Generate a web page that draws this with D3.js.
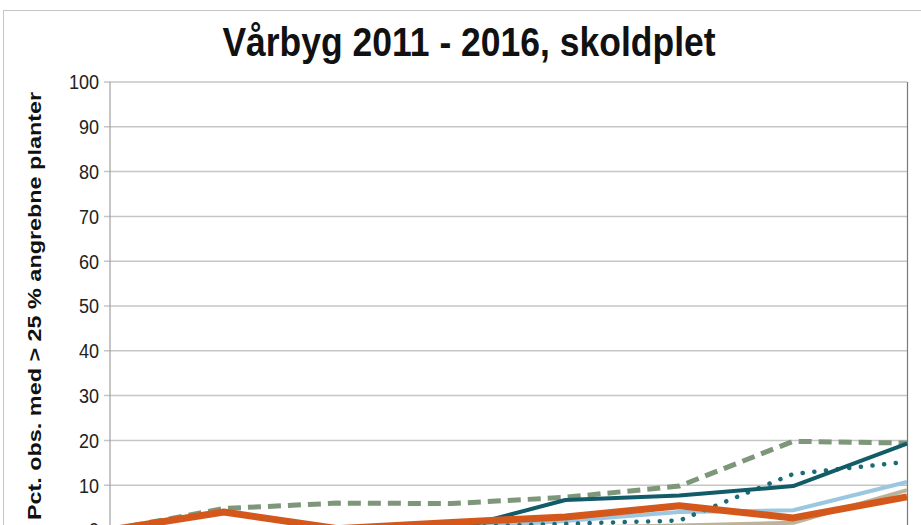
<!DOCTYPE html>
<html>
<head>
<meta charset="utf-8">
<script src="https://cdn.jsdelivr.net/npm/d3@7"></script>
<style>
  body { margin: 0; background: #fff; }
  svg { display: block; font-family: "Liberation Sans", Arial, sans-serif; }
</style>
</head>
<body>
<svg id="canvas" width="921" height="525"></svg>
<script>
// observation rounds along x (their labels sit below the cropped picture)
const categories = ["Obs. 1", "Obs. 2", "Obs. 3", "Obs. 4", "Obs. 5", "Obs. 6", "Obs. 7", "Obs. 8"];
const yTicks = [0, 10, 20, 30, 40, 50, 60, 70, 80, 90, 100];

const years = ["2011", "2012", "2013", "2014", "2015", "2016"];
const values2011 = [0, 0, 0, 0, 0.5, 1, 1.6, 8.9];        // tan
const values2012 = [0, 0, 0, 0.5, 2, 4, 4.4, 10.7];       // light blue
const values2013 = [0, 0, 0, 0.6, 1.4, 2.1, 12.5, 15.2];  // dotted teal
const values2014 = [0, 4.8, 6.0, 5.9, 7.3, 9.8, 19.8, 19.4]; // dashed green
const values2015 = [0, 0, 0, 0, 6.7, 7.7, 9.8, 19.3];     // teal
const values2016 = [0, 4.0, 0.3, 1.7, 2.9, 5.4, 2.7, 7.4]; // orange

const seriesValues = [values2011, values2012, values2013, values2014, values2015, values2016];
const styles = [
    { color: "#bdb29a", width: 4, dash: null, cap: "butt" },
    { color: "#9cc7e0", width: 4, dash: null, cap: "butt" },
    { color: "#1c6b78", width: 4.5, dash: "0.1,11.6", cap: "round" },
    { color: "#7e967a", width: 5, dash: "13,7", cap: "butt" },
    { color: "#115c68", width: 4, dash: null, cap: "butt" },
    { color: "#d4581c", width: 7, dash: null, cap: "butt" }
];

const svg = d3.select("#canvas");

// outer chart frame
svg.append("rect")
    .attr("x", 3.5).attr("y", 10.5)
    .attr("width", 1000).attr("height", 1000)
    .attr("fill", "#fff")
    .attr("stroke", "#c4c4c4");

const plotLeft = 110, plotRight = 907, plotTop = 82, plotBottom = 530;

const x = d3.scalePoint().domain(categories).range([plotLeft, plotRight]);
const y = d3.scaleLinear().domain([0, 100]).range([plotBottom, plotTop]);

// grid lines with short stubs left of the axis
svg.append("g")
    .selectAll("line")
    .data(yTicks)
    .enter()
    .append("line")
    .attr("x1", plotLeft - 6)
    .attr("x2", plotRight)
    .attr("y1", d => y(d))
    .attr("y2", d => y(d))
    .attr("stroke", "#c6c6c6")
    .attr("stroke-width", 1.5);

// left axis line and right plot border
svg.append("line")
    .attr("x1", plotLeft).attr("x2", plotLeft)
    .attr("y1", plotTop).attr("y2", plotBottom)
    .attr("stroke", "#a0a0a0").attr("stroke-width", 1.2);
svg.append("line")
    .attr("x1", plotRight + 0.5).attr("x2", plotRight + 0.5)
    .attr("y1", plotTop).attr("y2", plotBottom)
    .attr("stroke", "#7a7a7a").attr("stroke-width", 1.2);

// y tick labels
svg.append("g")
    .selectAll("text")
    .data(yTicks)
    .enter()
    .append("text")
    .attr("transform", d => `translate(99,${y(d)}) scale(1,1.15)`)
    .attr("text-anchor", "end")
    .attr("dy", "0.36em")
    .attr("font-size", 18)
    .attr("fill", "#222")
    .text(d => d);

// lines
const line = d3.line()
    .x((d, i) => x(categories[i]))
    .y(d => y(d));

svg.append("g")
    .selectAll("path")
    .data(seriesValues)
    .enter()
    .append("path")
    .attr("d", d => line(d))
    .attr("fill", "none")
    .attr("stroke", (d, i) => styles[i].color)
    .attr("stroke-width", (d, i) => styles[i].width)
    .attr("stroke-dasharray", (d, i) => styles[i].dash)
    .attr("stroke-linecap", (d, i) => styles[i].cap)
    .attr("stroke-linejoin", "round")
    .attr("data-year", (d, i) => years[i]);

// title
svg.append("text")
    .attr("transform", "translate(469,56) scale(1,1.15)")
    .attr("text-anchor", "middle")
    .attr("font-size", 35.5)
    .attr("font-weight", "bold")
    .attr("fill", "#111")
    .text("Vårbyg 2011 - 2016, skoldplet");

// y axis title
svg.append("text")
    .attr("transform", `translate(41,${(plotTop + plotBottom) / 2}) scale(1,1.3) rotate(-90)`)
    .attr("text-anchor", "middle")
    .attr("font-size", 18)
    .attr("font-weight", "bold")
    .attr("fill", "#111")
    .text("Pct. obs. med > 25 % angrebne planter");
</script>
</body>
</html>
